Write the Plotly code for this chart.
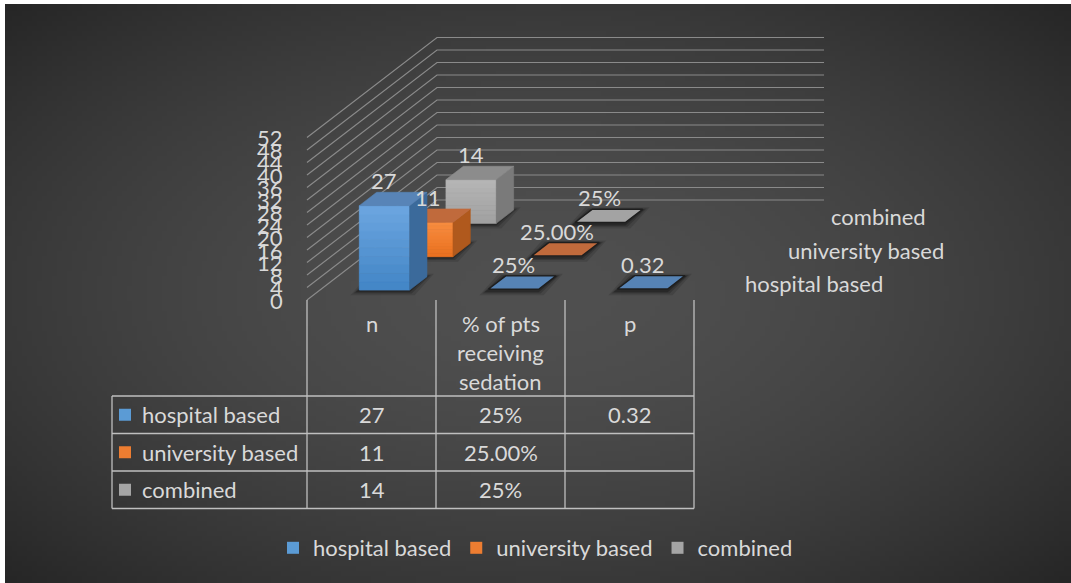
import base64
import struct
import textwrap
import zlib

import numpy as np
import plotly.graph_objects as go

# ---------------------------------------------------------------- data
categories = ["n", "% of pts receiving sedation", "p"]
series_names = ["hospital based", "university based", "combined"]
hospital = [27, 0.25, 0.32]
university = [11, 0.25, None]
combined = [14, 0.25, None]
hospital_text = ["27", "25%", "0.32"]
university_text = ["11", "25.00%", ""]
combined_text = ["14", "25%", ""]
value_ticks = list(range(0, 53, 4))

series_values = [hospital, university, combined]
series_text = [hospital_text, university_text, combined_text]

# ---------------------------------------------------------------- styling
W, H = 1071, 583
FONT = "Lato"
FS = 22
TXT = "#d9d9d9"
GRID = "#8a8a8a"

# per series: front-top, front-bottom, side, top, legend key
PALETTE = [
    dict(ft=(108, 166, 224), fb=(66, 133, 198), side="#3b6a9b", top="#5884b7", key="#5b9bd5"),
    dict(ft=(247, 140, 64), fb=(234, 112, 30), side="#b0591d", top="#c06a3c", key="#ed7d31"),
    dict(ft=(182, 182, 182), fb=(160, 160, 160), side="#7a7a7a", top="#8c8c8c", key="#a5a5a5"),
]
FLAT_TOP = ["#5683b5", "#c06a3c", "#a3a3a3"]

# ---------------------------------------------------------------- oblique 3-D scale
ORIGIN_X, ORIGIN_Y = 307.0, 300.0      # front-left corner of the floor
CAT_W = 129.0                          # width of one category along x
DEPTH_DX, DEPTH_DY = 130.0, -100.0     # full depth of the plot box
PX_PER_UNIT = 3.125                    # vertical pixels per value unit
N_CAT = len(categories)
N_SER = len(series_names)
BAR_W = 0.39                           # fraction of a category slot
BAR_D = 0.40                           # fraction of a depth slot


def proj(c, d, v):
    """Map (category coord, depth fraction, value) to screen pixels."""
    return (ORIGIN_X + c * CAT_W + d * DEPTH_DX,
            ORIGIN_Y + d * DEPTH_DY - v * PX_PER_UNIT)


def poly(points):
    xs = [p[0] for p in points] + [points[0][0]]
    ys = [p[1] for p in points] + [points[0][1]]
    return xs, ys


def mix(a, b, t):
    return "rgb(%d,%d,%d)" % tuple(round(a[i] + (b[i] - a[i]) * t) for i in range(3))


# ---------------------------------------------------------------- background gradient
def gradient_png(w, h, center, edge, power):
    yy, xx = np.mgrid[0:h, 0:w]
    nx = (xx + 0.5) / w * 2 - 1
    ny = (yy + 0.5) / h * 2 - 1
    r = np.sqrt(nx ** 2 + ny ** 2) / np.sqrt(2)
    img = np.clip(center - (center - edge) * r ** power, 0, 255).astype(np.uint8)
    raw = b"".join(b"\x00" + row.tobytes() for row in img)

    def chunk(tag, data):
        return (struct.pack(">I", len(data)) + tag + data
                + struct.pack(">I", zlib.crc32(tag + data) & 0xFFFFFFFF))

    png = (b"\x89PNG\r\n\x1a\n"
           + chunk(b"IHDR", struct.pack(">IIBBBBB", w, h, 8, 0, 0, 0, 0))
           + chunk(b"IDAT", zlib.compress(raw, 9))
           + chunk(b"IEND", b""))
    return "data:image/png;base64," + base64.b64encode(png).decode()


fig = go.Figure()
annotations = []
shapes = []


def add_poly(points, color, line_color=None, width=0.6, opacity=1.0):
    xs, ys = poly(points)
    fig.add_trace(go.Scatter(
        x=xs, y=ys, mode="lines", fill="toself", fillcolor=color,
        line=dict(color=line_color or color, width=width),
        opacity=opacity, hoverinfo="skip", showlegend=False))


# ---------------------------------------------------------------- walls / gridlines
for v in value_ticks:
    x0, y0 = proj(0, 0, v)
    x1, y1 = proj(0, 1, v)
    x2, y2 = proj(N_CAT, 1, v)
    fig.add_trace(go.Scatter(x=[x0, x1, x2], y=[y0, y1, y2], mode="lines",
                             line=dict(color=GRID, width=1.2),
                             hoverinfo="skip", showlegend=False))
    annotations.append(dict(x=x0 - 22, y=y0, text=str(v), showarrow=False,
                            xanchor="right", yanchor="middle",
                            font=dict(family=FONT, size=FS, color=TXT)))

# ---------------------------------------------------------------- bars (back row first)
for s in reversed(range(N_SER)):
    d0 = (s + (1 - BAR_D) / 2) / N_SER
    d1 = d0 + BAR_D / N_SER
    for c, val in enumerate(series_values[s]):
        if val is None:
            continue
        c0 = c + (1 - BAR_W) / 2
        c1 = c0 + BAR_W
        # soft floor shadow
        for grow, alpha in [(7, 0.12), (4, 0.18), (2, 0.25)]:
            fa, fb_, fc, fd = proj(c0, d0, 0), proj(c1, d0, 0), proj(c1, d1, 0), proj(c0, d1, 0)
            add_poly([(fa[0] - grow - 2, fa[1] + grow * 0.6 + 1),
                      (fb_[0] + grow - 2, fb_[1] + grow * 0.6 + 1),
                      (fc[0] + grow, fc[1] - grow * 0.4),
                      (fd[0] - grow, fd[1] - grow * 0.4)],
                     "rgba(0,0,0,%.2f)" % alpha, line_color="rgba(0,0,0,0)", width=0)
        pal = PALETTE[s]
        if val >= 1:
            # front face with a vertical gradient
            n_strips = 10
            for k in range(n_strips):
                va = val * k / n_strips
                vb = val * (k + 1) / n_strips
                col = mix(pal["fb"], pal["ft"], (k + 0.5) / n_strips)
                add_poly([proj(c0, d0, va), proj(c1, d0, va),
                          proj(c1, d0, vb), proj(c0, d0, vb)], col, width=0.8)
            add_poly([proj(c1, d0, 0), proj(c1, d1, 0), proj(c1, d1, val), proj(c1, d0, val)],
                     pal["side"])
            add_poly([proj(c0, d0, val), proj(c1, d0, val), proj(c1, d1, val), proj(c0, d1, val)],
                     pal["top"])
        else:
            add_poly([proj(c0, d0, val), proj(c1, d0, val), proj(c1, d1, val), proj(c0, d1, val)],
                     FLAT_TOP[s], line_color="#1e1e1e", width=1.4)
        lx, ly = proj(c + 0.5, (d0 + d1) / 2, val)
        annotations.append(dict(x=lx - 9, y=ly - 18, text=series_text[s][c], showarrow=False,
                                xanchor="center", yanchor="middle",
                                font=dict(family=FONT, size=FS, color=TXT)))

# ---------------------------------------------------------------- depth-axis series labels
for s, name in enumerate(series_names):
    x, y = proj(N_CAT, (s + 0.5) / N_SER, 0)
    annotations.append(dict(x=x + 27, y=y, text=name, showarrow=False,
                            xanchor="left", yanchor="middle",
                            font=dict(family=FONT, size=FS, color=TXT)))

# ---------------------------------------------------------------- data table
TABLE_LEFT = 112.0
HEADER_H = 96.0
ROW_H = 37.5
LINE_H = 29.0
table_top = ORIGIN_Y
rows_top = table_top + HEADER_H
table_bottom = rows_top + ROW_H * N_SER
col_edges = [proj(i, 0, 0)[0] for i in range(N_CAT + 1)]
LINE = dict(color="#bfbfbf", width=1.3)

for x in col_edges:
    shapes.append(dict(type="line", xref="x", yref="y", x0=x, x1=x,
                       y0=table_top, y1=table_bottom, line=LINE))
shapes.append(dict(type="line", xref="x", yref="y", x0=TABLE_LEFT, x1=TABLE_LEFT,
                   y0=rows_top, y1=table_bottom, line=LINE))
for r in range(N_SER + 1):
    y = rows_top + r * ROW_H
    shapes.append(dict(type="line", xref="x", yref="y", x0=TABLE_LEFT, x1=col_edges[-1],
                       y0=y, y1=y, line=LINE))

for c, cat in enumerate(categories):
    cx = (col_edges[c] + col_edges[c + 1]) / 2
    for k, line in enumerate(textwrap.wrap(cat, 10)):
        annotations.append(dict(x=cx, y=table_top + 23 + k * LINE_H, text=line, showarrow=False,
                                xanchor="center", yanchor="middle",
                                font=dict(family=FONT, size=FS, color=TXT)))

for s, name in enumerate(series_names):
    cy = rows_top + (s + 0.5) * ROW_H
    shapes.append(dict(type="rect", xref="x", yref="y", x0=TABLE_LEFT + 7, x1=TABLE_LEFT + 19,
                       y0=cy - 6, y1=cy + 6, fillcolor=PALETTE[s]["key"], line=dict(width=0)))
    annotations.append(dict(x=TABLE_LEFT + 28, y=cy, text=name, showarrow=False,
                            xanchor="left", yanchor="middle",
                            font=dict(family=FONT, size=FS, color=TXT)))
    for c, txt in enumerate(series_text[s]):
        cx = (col_edges[c] + col_edges[c + 1]) / 2
        annotations.append(dict(x=cx, y=cy, text=txt, showarrow=False,
                                xanchor="center", yanchor="middle",
                                font=dict(family=FONT, size=FS, color=TXT)))

# ---------------------------------------------------------------- legend entries
for s, name in enumerate(series_names):
    fig.add_trace(go.Scatter(x=[None], y=[None], mode="markers", name=name,
                             marker=dict(symbol="square", size=14, color=PALETTE[s]["key"])))

fig.update_layout(
    width=W, height=H,
    margin=dict(l=0, r=0, t=0, b=0),
    paper_bgcolor="white",
    plot_bgcolor="rgba(0,0,0,0)",
    xaxis=dict(range=[0, W], visible=False, fixedrange=True),
    yaxis=dict(range=[H, 0], visible=False, fixedrange=True),
    showlegend=True,
    legend=dict(orientation="h", x=0.5, xanchor="center", y=(H - 548) / H, yanchor="middle",
                font=dict(family=FONT, size=FS, color=TXT), bgcolor="rgba(0,0,0,0)",
                itemsizing="constant"),
    annotations=annotations,
    shapes=shapes,
    images=[dict(source=gradient_png(214, 116, 80, 38, 1.7), xref="paper", yref="paper",
                 x=5 / W, y=1 - 4 / H, sizex=(W - 5) / W, sizey=(H - 4) / H,
                 xanchor="left", yanchor="top", sizing="stretch", layer="below")],
)

fig.write_html("out.html")
